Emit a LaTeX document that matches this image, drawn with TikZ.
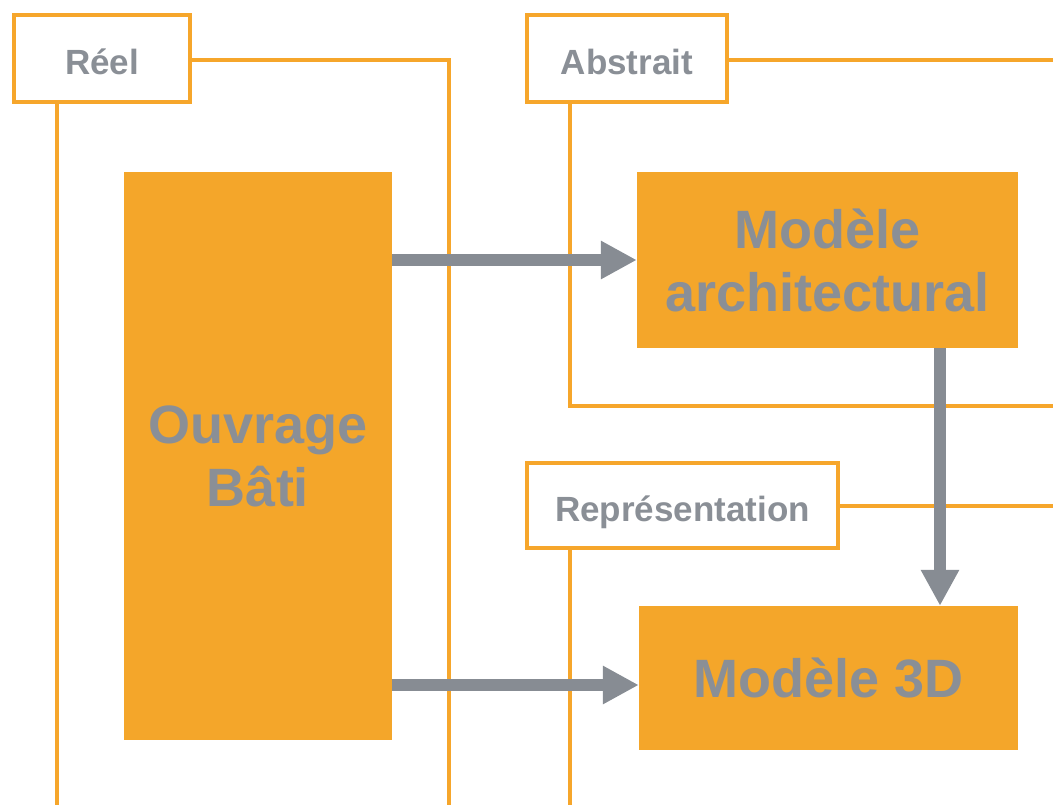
\documentclass[tikz,border=0pt]{standalone}
\usepackage{fontspec}
\setmainfont{Liberation Sans}
\usetikzlibrary{arrows.meta}
\definecolor{org}{HTML}{F4A62A}
\definecolor{frm}{HTML}{F6A62B}
\definecolor{txt}{HTML}{8A8F96}
\definecolor{arr}{HTML}{878C93}
\tikzset{
  lab/.style={draw=frm, line width=4pt, fill=white, inner sep=0pt, text=txt,
    text height=32pt, text depth=0pt,
    font=\fontsize{35}{40}\selectfont\bfseries},
  blk/.style={fill=org, inner sep=0pt, text=txt, align=center,
    font=\fontsize{54}{63}\selectfont\bfseries},
  frame/.style={draw=frm, line width=4pt},
  flow/.style={draw=arr, line width=12pt, -{Triangle[width=36pt,length=36pt]}},
}
\begin{document}
\begin{tikzpicture}[x=1pt,y=-1pt]
\useasboundingbox[fill=white] (0,0) rectangle (1053,804);
% frames
\draw[frame] (57,810) -- (57,60) -- (449,60) -- (449,810);
\draw[frame] (1060,60) -- (570,60) -- (570,405.5) -- (1060,405.5);
\draw[frame] (1060,505.5) -- (570,505.5) -- (570,810);
% labels
\node[lab, minimum width=176pt, minimum height=87pt] (reel) at (102,58.5) {Réel};
\node[lab, minimum width=200pt, minimum height=87pt] (abs) at (627,58.5) {Abstrait};
\node[lab, minimum width=311pt, minimum height=85pt] (rep) at (682.5,505.5) {Représentation};
% blocks
\node[blk, minimum width=268pt, minimum height=568pt] (ouv) at (258,456) {Ouvrage\\Bâti};
\node[blk, minimum width=381pt, minimum height=176pt] (march) at (827.5,260) {Modèle\\architectural};
\node[blk, minimum width=379pt, minimum height=144pt] (m3d) at (828.5,678) {Modèle 3D};
% arrows
\draw[flow] (ouv.east |- march.west) -- (march.west);
\coordinate (a2) at ([yshift=-7pt]m3d.west);
\draw[flow] (ouv.east |- a2) -- (a2);
\coordinate (v1) at ([xshift=112.5pt]march.south);
\draw[flow] (v1) -- (v1 |- m3d.north);
\end{tikzpicture}
\end{document}
